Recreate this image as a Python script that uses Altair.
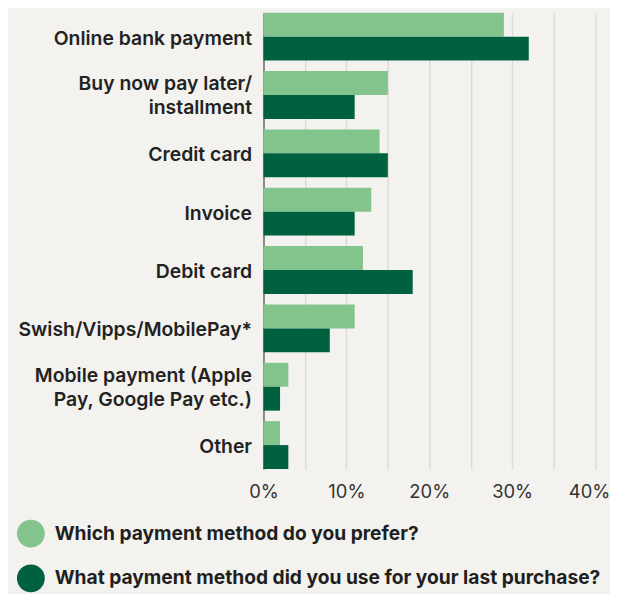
import altair as alt
import pandas as pd

categories = ["Online bank payment", "Buy now pay later/|installment", "Credit card", "Invoice",
              "Debit card", "Swish/Vipps/MobilePay*", "Mobile payment (Apple|Pay, Google Pay etc.)", "Other"]
series = ["Which payment method do you prefer?", "What payment method did you use for your last purchase?"]
prefer = [29, 15, 14, 13, 12, 11, 3, 2]
last = [32, 11, 15, 11, 18, 8, 2, 3]
colors = ["#82c48c", "#006141"]
x_ticks = [0, 5, 10, 15, 20, 25, 30, 35, 40]

rows = []
for i, c in enumerate(categories):
    rows.append({"cat": c, "series": series[0], "order": 0, "value": prefer[i]})
    rows.append({"cat": c, "series": series[1], "order": 1, "value": last[i]})
df = pd.DataFrame(rows)

FONT = "Inter"

chart = alt.Chart(df).mark_bar().encode(
    y=alt.Y("cat:N", sort=categories, title=None,
            scale=alt.Scale(paddingInner=0.18, paddingOuter=0),
            axis=alt.Axis(labelExpr="split(datum.label, '|')", labelFont=FONT, labelFontSize=19.5,
                          labelFontWeight=600, labelColor="#222222", labelPadding=12,
                          labelLineHeight=24,
                          labelOffset={"condition": {"test": "indexof(datum.value, '|') >= 0", "value": -11},
                                       "value": 2},
                          ticks=False, domainColor="#8a8a8a", domainWidth=2,
                          grid=False, labelLimit=300)),
    yOffset=alt.YOffset("series:N", sort=series),
    x=alt.X("value:Q", title=None, scale=alt.Scale(domain=[0, 40], nice=False),
            axis=alt.Axis(values=x_ticks, labelExpr="datum.value % 10 == 0 ? datum.value + '%' : ''",
                          labelFont=FONT, labelFontSize=18.5, labelColor="#333333", labelPadding=14,
                          labelFlush=False,
                          labelOffset={"condition": {"test": "datum.value == 40", "value": -6}, "value": 0},
                          ticks=False, domain=False, grid=True, gridColor="#dcdbd5", gridWidth=1.5)),
    color=alt.Color("series:N", sort=series, scale=alt.Scale(domain=series, range=colors),
                    legend=alt.Legend(title=None, orient="none", legendX=-248, legendY=510,
                                      direction="vertical", symbolType="circle", symbolSize=784,
                                      symbolStrokeWidth=0, labelFont=FONT, labelFontSize=19.3,
                                      labelFontWeight=700, labelColor="#1f1f1f", labelOffset=10,
                                      rowPadding=17, labelLimit=600)),
).properties(
    width=333.6, height=459,
    background="#f3f2ee",
    padding={"left": 9, "top": 3, "right": 0, "bottom": 0},
).configure_view(stroke=None)

chart.save("out.html", embed_options={"renderer": "svg", "actions": False})
